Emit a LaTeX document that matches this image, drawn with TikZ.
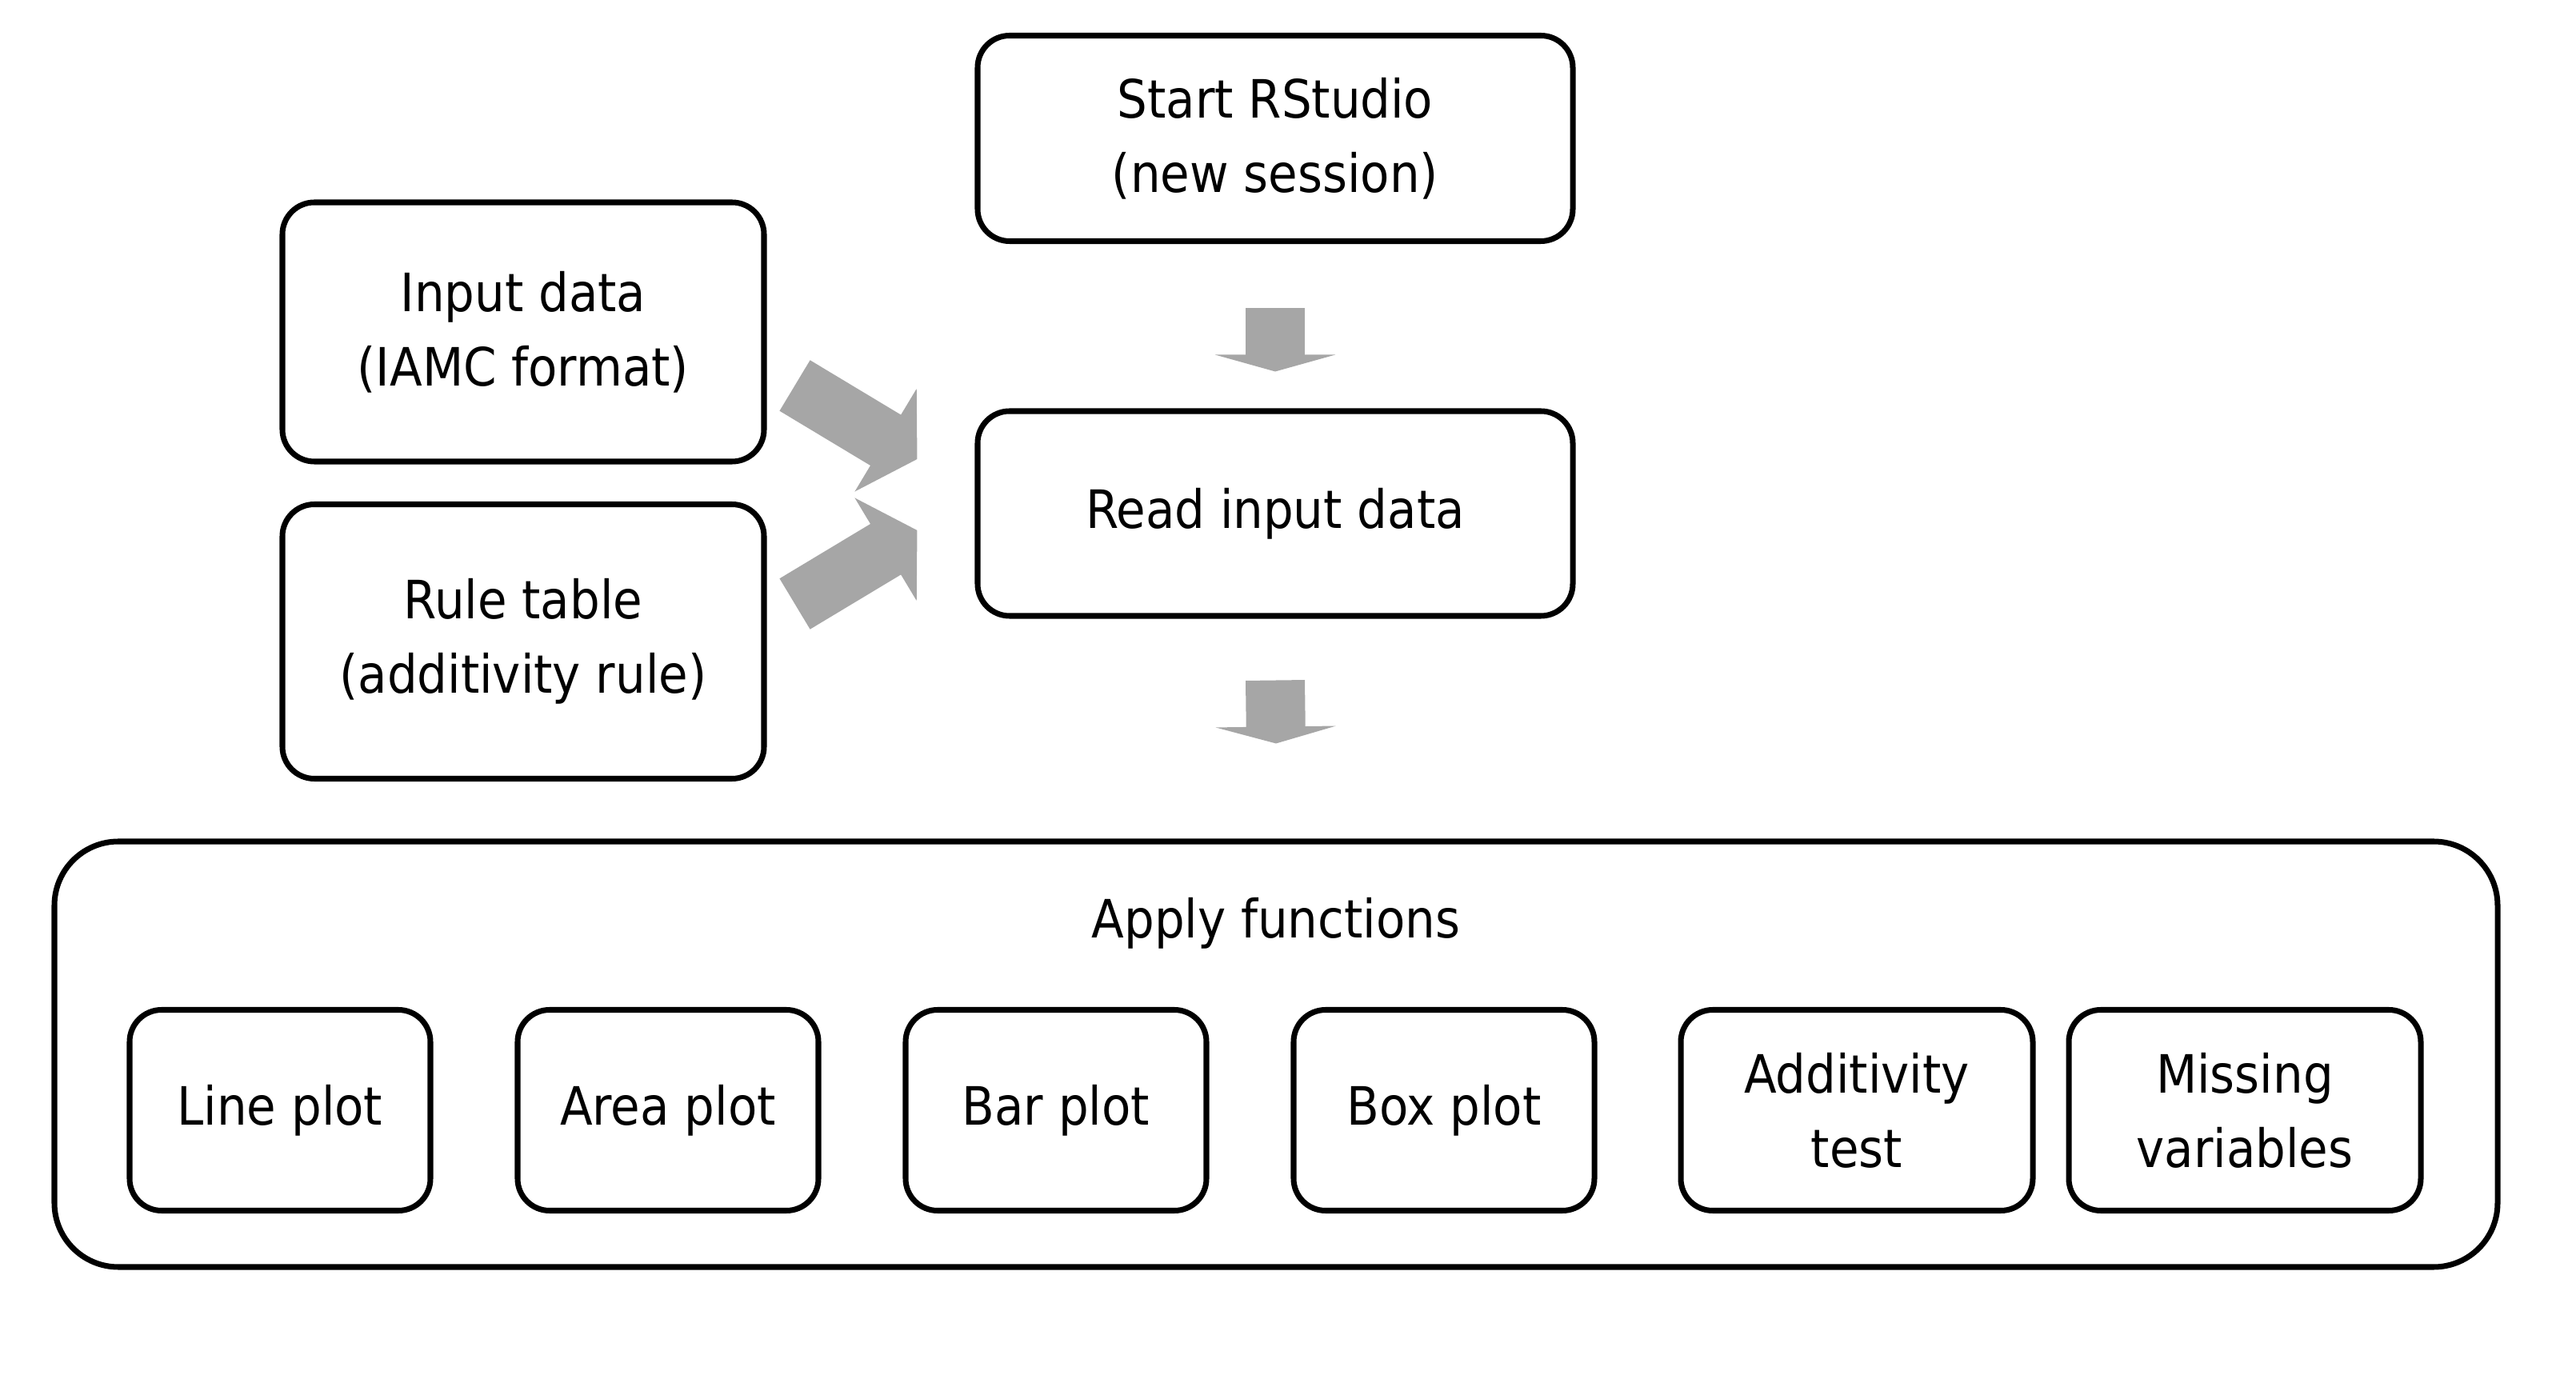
\documentclass[tikz,border=0pt]{standalone}
\usepackage{fontspec}
\setmainfont{DejaVu Sans Condensed}
\usetikzlibrary{arrows.meta,calc}

\definecolor{arrowgray}{RGB}{166,166,166}

\tikzset{
  box/.style={draw, line width=2pt, rounded corners=0.4cm, align=center,
              inner sep=0pt, font=\fontsize{18.8}{26.5}\selectfont},
  fnbox/.style={box, minimum height=2.51cm},
  blockarrow/.style={draw=arrowgray, line width=0.74cm},
}

\begin{document}
\begin{tikzpicture}
    \useasboundingbox (0,0) rectangle (32.2,-17.24);

    % top row
    \node[box, minimum width=7.44cm, minimum height=2.57cm] (start) at (15.94,-1.73)
         {Start RStudio\\(new session)};
    \node[box, minimum width=7.44cm, minimum height=2.56cm] (read) at (15.94,-6.42)
         {\raisebox{-0.04cm}{Read input data}};
    \node[box, minimum width=6.02cm, minimum height=3.24cm] (input) at (6.54,-4.15)
         {Input data\\(IAMC format)};
    \node[box, minimum width=6.02cm, minimum height=3.43cm] (rule) at (6.54,-8.02)
         {Rule table\\(additivity rule)};

    % functions
    \node[box, rounded corners=0.8cm, minimum width=30.54cm, minimum height=5.32cm] (apply) at (15.95,-13.18) {};
    \node[font=\fontsize{18.8}{26.5}\selectfont] (applytext) at (15.95,-11.54) {Apply functions};
    \node[fnbox, minimum width=3.76cm] (line) at (3.50,-13.88) {\raisebox{-0.04cm}{Line plot}};
    \node[fnbox, minimum width=3.76cm] (area) at (8.35,-13.88) {\raisebox{-0.04cm}{Area plot}};
    \node[fnbox, minimum width=3.76cm] (bar)  at (13.20,-13.88) {\raisebox{-0.04cm}{Bar plot}};
    \node[fnbox, minimum width=3.76cm] (boxp) at (18.05,-13.88) {\raisebox{-0.04cm}{Box plot}};
    \node[fnbox, minimum width=4.40cm] (addt) at (23.21,-13.88) {Additivity\\test};
    \node[fnbox, minimum width=4.40cm] (miss) at (28.06,-13.88) {Missing\\variables};

    % block arrows
    \draw[blockarrow, -{Triangle[width=1.50cm, length=0.21cm]}]
        ($(start.south)+(0,-0.80)$) -- ($(read.north)+(0,0.46)$);
    \draw[blockarrow, -{Triangle[width=1.50cm, length=0.21cm]}]
        ($(read.south)+(0,-0.77)$) -- ($(apply.north)+(0,1.19)$);
    \draw[blockarrow, -{Triangle[width=1.48cm, length=0.46cm]}]
        ($(input.east)+(0.35,-0.67)$) -- ($(read.west)+(-0.72,0.68)$);
    \draw[blockarrow, -{Triangle[width=1.48cm, length=0.46cm]}]
        ($(rule.east)+(0.35,0.47)$) -- ($(read.west)+(-0.72,-0.21)$);
\end{tikzpicture}
\end{document}
